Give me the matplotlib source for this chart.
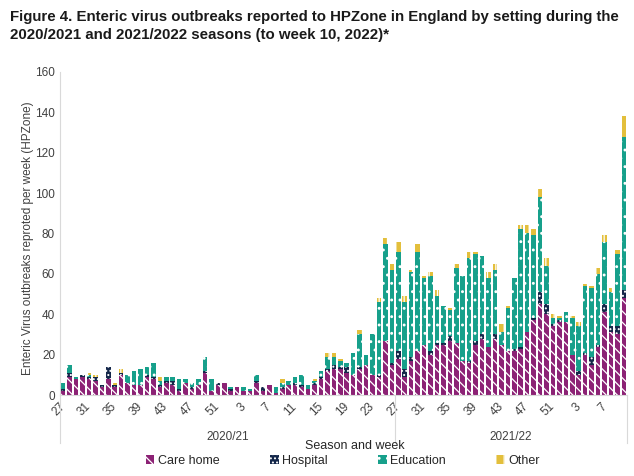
import numpy as np
import matplotlib.pyplot as plt

plt.rcParams['font.family'] = ['Liberation Sans', 'DejaVu Sans']
plt.rcParams['hatch.linewidth'] = 0.9

# weeks of the two seasons (2020/21 has 52 weeks here, 2021/22 runs to week 10)
weeks = list(range(27, 53)) + list(range(1, 27)) + list(range(27, 53)) + list(range(1, 11))
seasons = ['2020/21', '2021/22']
season_len = [52, 36]

# outbreaks per week by setting
care_home = [2, 9, 8, 9, 8, 7, 4, 8, 4, 10, 6, 5, 5, 9, 8, 4, 6, 5, 2, 6,
             3, 5, 11, 2, 5, 6, 2, 4, 2, 2, 6, 2, 5, 1, 3, 5, 5, 4, 3, 5,
             8, 12, 13, 13, 11, 10, 13, 15, 10, 9, 27, 15,
             18, 9, 17, 22, 25, 20, 25, 25, 27, 26, 17, 16, 25, 28, 24, 28, 25, 22,
             22, 23, 31, 37, 45, 40, 34, 36, 36, 20, 10, 20, 15, 24, 41, 31, 30, 48]
hospital = [1, 2, 0, 1, 1, 2, 1, 6, 1, 1, 0, 0, 0, 1, 1, 1, 1, 2, 1, 0,
            1, 0, 1, 0, 1, 0, 1, 0, 0, 0, 1, 2, 0, 0, 1, 0, 1, 1, 0, 1,
            1, 1, 2, 1, 3, 0, 1, 0, 0, 1, 0, 1,
            4, 4, 2, 0, 0, 2, 1, 1, 2, 0, 0, 1, 2, 2, 0, 2, 0, 0,
            1, 1, 0, 1, 6, 5, 1, 1, 0, 0, 2, 1, 4, 1, 4, 3, 4, 4]
education = [3, 4, 1, 0, 1, 0, 0, 0, 0, 0, 4, 7, 8, 4, 7, 2, 2, 2, 5, 2,
             2, 3, 7, 6, 0, 0, 1, 0, 2, 1, 3, 0, 0, 3, 2, 2, 3, 5, 2, 1,
             3, 6, 4, 3, 2, 11, 16, 5, 20, 36, 48, 46,
             49, 33, 42, 49, 33, 37, 23, 18, 13, 37, 42, 51, 43, 39, 34, 32, 6, 21,
             35, 58, 49, 41, 47, 19, 3, 1, 5, 18, 22, 33, 34, 35, 31, 17, 36, 76]
other = [0, 0, 0, 0, 1, 1, 0, 0, 1, 2, 0, 0, 0, 0, 0, 2, 0, 0, 0, 0,
         0, 0, 0, 0, 0, 0, 0, 0, 0, 0, 0, 0, 0, 0, 2, 0, 0, 0, 0, 1,
         0, 2, 2, 1, 0, 0, 2, 0, 0, 2, 3, 3,
         5, 3, 1, 4, 1, 2, 3, 0, 1, 2, 0, 3, 1, 0, 3, 3, 4, 1,
         0, 2, 4, 3, 4, 4, 2, 1, 0, 1, 2, 1, 1, 3, 3, 2, 2, 10]

series = [('Care home', care_home, '#8C2275', '\\\\\\'),
          ('Hospital', hospital, '#14274A', '....'),
          ('Education', education, '#17A08B', '..'),
          ('Other', other, '#E3BF3C', '||')]

fig = plt.figure(figsize=(6.34, 4.76), dpi=100)
ax = fig.add_axes([0.0946, 0.170, 0.8944, 0.679])

x = np.arange(len(weeks))
bottom = np.zeros(len(weeks))
for name, vals, col, hatch in series:
    ax.bar(x, vals, 0.7, bottom=bottom, color=col, edgecolor='white',
           linewidth=0, hatch=hatch, label=name)
    bottom += np.array(vals)

ax.set_xlim(-0.5, len(weeks) - 0.5)
ax.set_ylim(0, 160)
ax.set_yticks(np.arange(0, 161, 20))
ax.set_xticks(x[::4])
ax.set_xticklabels(weeks[::4], rotation=45, ha='right', va='center',
                   rotation_mode='anchor')
ax.tick_params(axis='both', length=0, labelsize=8.5, colors='#404040')
ax.tick_params(axis='x', pad=7)
for s in ['top', 'right']:
    ax.spines[s].set_visible(False)
for s in ['left', 'bottom']:
    ax.spines[s].set_color('#d9d9d9')

# season separators and labels under the week ticks
trans = ax.get_xaxis_transform()
edges = np.concatenate([[0], np.cumsum(season_len)]) - 0.5
for e in edges:
    ax.plot([e, e], [0, -0.149], color='#d9d9d9', lw=0.8,
            transform=trans, clip_on=False)
for i, name in enumerate(seasons):
    ax.text((edges[i] + edges[i + 1]) / 2, -0.13, name, transform=trans,
            ha='center', va='center', fontsize=8.5, color='#404040')

fig.text(0.56, 1 - 446 / 476, 'Season and week', ha='center', va='center',
         fontsize=9, color='#262626')
fig.text(0.044, 0.5, 'Enteric Virus outbreaks reproted per week (HPZone)',
         rotation=90, ha='center', va='center', fontsize=8.5, color='#404040')

fig.text(0.016, 0.978,
         'Figure 4. Enteric virus outbreaks reported to HPZone in England by setting during the\n'
         '2020/2021 and 2021/2022 seasons (to week 10, 2022)*',
         ha='left', va='top', fontsize=10.8, fontweight='bold',
         color='#1a1a1a', linespacing=1.35)

fig.legend(loc='center', bbox_to_anchor=(0.541, 1 - 461 / 476), ncol=4,
           frameon=False, fontsize=9, handlelength=0.7, handleheight=0.7,
           handletextpad=0.3, columnspacing=4.0, labelcolor='#262626')

fig.savefig('out.png', dpi=100)
